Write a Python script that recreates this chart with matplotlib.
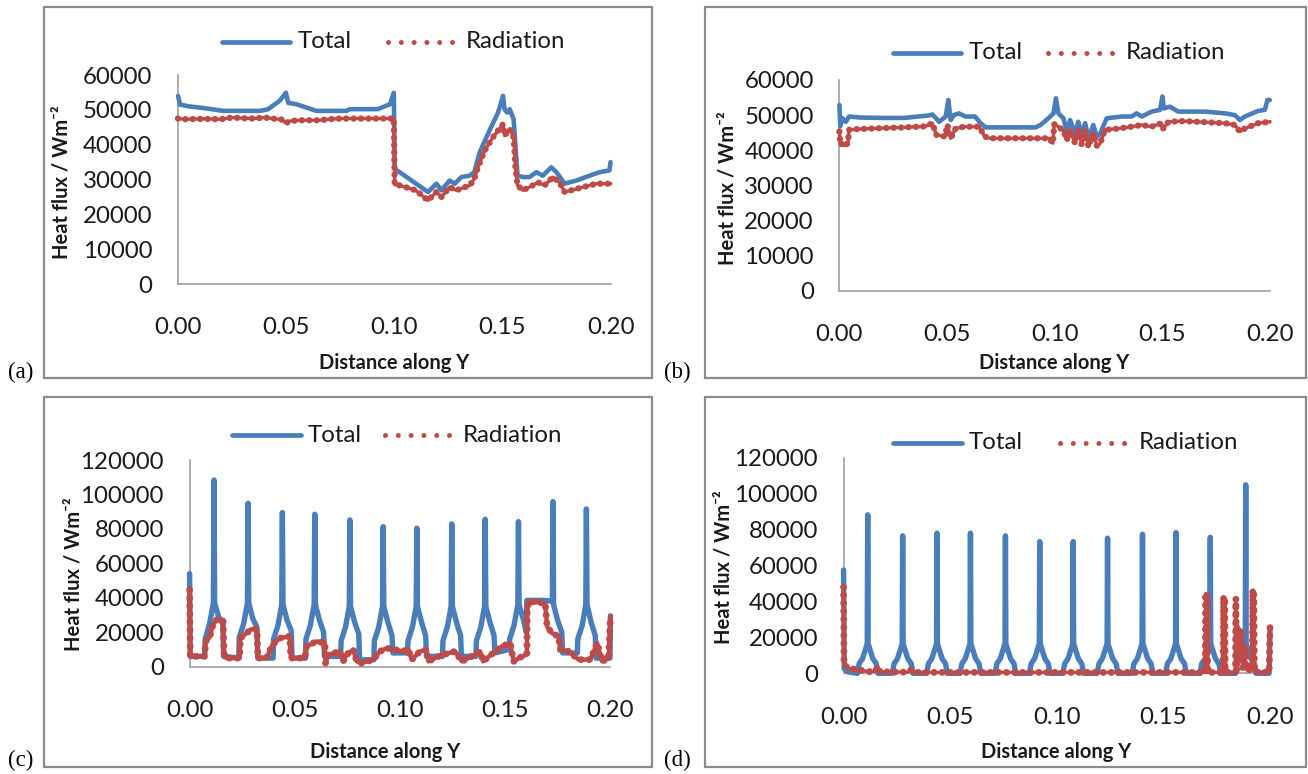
import matplotlib
matplotlib.use('Agg')
import matplotlib.pyplot as plt
from matplotlib.lines import Line2D
from matplotlib.patches import Rectangle
from matplotlib.ticker import FixedLocator, FormatStrFormatter

# ---------------- data ----------------
x_ticks = [0.00, 0.05, 0.10, 0.15, 0.20]
y_ticks_ab = [0, 10000, 20000, 30000, 40000, 50000, 60000]
y_ticks_cd = [0, 20000, 40000, 60000, 80000, 100000, 120000]
series_names = ['Total', 'Radiation']
panel_labels = ['(a)', '(b)', '(c)', '(d)']

# (a)
a_total_x = [0.0, 0.001, 0.005, 0.012, 0.021, 0.038, 0.0417, 0.047, 0.0499, 0.051, 0.0548, 0.064,
             0.078, 0.0794, 0.0924, 0.098, 0.0998, 0.1002, 0.1025, 0.1156, 0.1195, 0.1218, 0.1256,
             0.128, 0.131, 0.1349, 0.137, 0.1395, 0.144, 0.148, 0.1503, 0.151, 0.1522, 0.1534,
             0.1552, 0.157, 0.1595, 0.1626, 0.1657, 0.1687, 0.1726, 0.175, 0.1788, 0.1842, 0.1903,
             0.195, 0.1995, 0.2]
a_total_y = [54000, 51500, 51000, 50500, 49700, 49700, 50200, 52600, 54900, 52000, 51600, 49700,
             49700, 50200, 50200, 51600, 54900, 33000, 32100, 26400, 28800, 26900, 29700,
             28800, 30700, 31100, 32100, 37800, 44000, 49200, 54000, 50200, 49200, 50200,
             47300, 31100, 30700, 30700, 32100, 31100, 33500, 32100, 28800, 29700, 31100,
             32100, 32600, 35000]
a_rad_x = [0.0, 0.003, 0.012, 0.02, 0.025, 0.03, 0.035, 0.04, 0.045, 0.048, 0.0499, 0.052, 0.056,
           0.065, 0.07, 0.075, 0.08, 0.09, 0.0998, 0.1002, 0.1025, 0.11, 0.1156, 0.1195, 0.1218,
           0.1256, 0.1287, 0.1349, 0.137, 0.1387, 0.1418, 0.1456, 0.1503, 0.151, 0.1534, 0.1552,
           0.1557, 0.1561, 0.157, 0.1595, 0.164, 0.1664, 0.1695, 0.1734, 0.1764, 0.1788, 0.1842,
           0.1934, 0.2]
a_rad_y = [47500, 47300, 47400, 47300, 47800, 47600, 47500, 47800, 47400, 47200, 46200, 46800, 47000,
           47000, 47300, 47500, 47500, 47500, 47500, 28500, 28300, 26900, 24000, 26400, 25000,
           27800, 26900, 28300, 30200, 33500, 38300, 42100, 45900, 42600, 44500, 42100,
           37300, 33000, 28300, 26900, 28300, 29200, 28300, 30700, 29200, 26400, 27300,
           28800, 28800]

# (b)
b_total_x = [0.0, 0.0004, 0.0014, 0.003, 0.0045, 0.01, 0.02, 0.03, 0.0416, 0.0432, 0.0463, 0.0494,
             0.0506, 0.0517, 0.0532, 0.0555, 0.0586, 0.063, 0.0656, 0.068, 0.08, 0.0911, 0.0935,
             0.0971, 0.0995, 0.1006, 0.1018, 0.1041, 0.1057, 0.1072, 0.1095, 0.111, 0.1126, 0.1142,
             0.1157, 0.118, 0.1196, 0.121, 0.1242, 0.1312, 0.1358, 0.1381, 0.1405, 0.1451, 0.149,
             0.1501, 0.1508, 0.1536, 0.1574, 0.17, 0.1791, 0.1838, 0.1861, 0.1884, 0.1946, 0.1977,
             0.1989, 0.2]
b_total_y = [52900, 46800, 49100, 48100, 49600, 49300, 49200, 49200, 49900, 50200, 48100, 49600,
             54300, 48600, 50000, 50500, 49600, 49600, 47700, 46500, 46500, 46500, 47200,
             49100, 50500, 54800, 50500, 49100, 45300, 48600, 44800, 48100, 44400, 47700,
             43400, 47200, 43900, 44500, 49100, 49600, 49600, 50500, 49600, 51000, 51500,
             55300, 51900, 52400, 51000, 51000, 50500, 50000, 48600, 49600, 51200, 51500,
             54300, 54300]
b_rad_x = [0.0, 0.0005, 0.0015, 0.0025, 0.004, 0.0045, 0.008, 0.02, 0.03, 0.04, 0.0432, 0.045,
           0.049, 0.0502, 0.0517, 0.054, 0.058, 0.065, 0.0675, 0.07, 0.08, 0.0975, 0.0992, 0.0998,
           0.1018, 0.1041, 0.1057, 0.1072, 0.1095, 0.111, 0.1126, 0.1142, 0.1157, 0.118, 0.1196,
           0.1211, 0.1234, 0.13, 0.1358, 0.1405, 0.145, 0.1497, 0.1505, 0.1529, 0.16, 0.1791,
           0.1838, 0.1861, 0.1884, 0.1946, 0.2]
b_rad_y = [45300, 41500, 42000, 41300, 42000, 45800, 46000, 46300, 46500, 46800, 47700, 44400,
           43900, 47200, 43400, 46200, 46700, 46700, 43900, 43400, 43400, 43400, 42000, 47400,
           46700, 45500, 42900, 45800, 42000, 45800, 41500, 45500, 41000, 44900, 41300,
           41800, 45800, 46200, 46700, 47200, 46700, 47700, 46200, 48100, 48300, 47700,
           47200, 45300, 46200, 47700, 48100]

# (c)
c_total_x = [0.0000, 0.0003, 0.0072,
             0.0074, 0.0095, 0.0113, 0.0116, 0.0119, 0.0138, 0.0158, 0.0162, 0.0234,
             0.0236, 0.0257, 0.0275, 0.0278, 0.0281, 0.0300, 0.0320, 0.0324, 0.0397,
             0.0399, 0.0420, 0.0438, 0.0441, 0.0444, 0.0463, 0.0483, 0.0487, 0.0551,
             0.0553, 0.0574, 0.0592, 0.0595, 0.0598, 0.0617, 0.0637, 0.0641, 0.0718,
             0.0720, 0.0741, 0.0759, 0.0762, 0.0765, 0.0784, 0.0804, 0.0808, 0.0876,
             0.0878, 0.0899, 0.0917, 0.0920, 0.0923, 0.0942, 0.0962, 0.0966, 0.1036,
             0.1038, 0.1059, 0.1077, 0.1080, 0.1083, 0.1102, 0.1122, 0.1126, 0.1202,
             0.1204, 0.1225, 0.1243, 0.1246, 0.1249, 0.1268, 0.1288, 0.1292, 0.1361,
             0.1363, 0.1384, 0.1402, 0.1405, 0.1408, 0.1427, 0.1447, 0.1451, 0.1519,
             0.1521, 0.1542, 0.1560, 0.1563, 0.1566, 0.1585, 0.1600, 0.1603, 0.1683,
             0.1724, 0.1727, 0.1730, 0.1749, 0.1769, 0.1773, 0.1843,
             0.1845, 0.1866, 0.1883, 0.1886, 0.1889, 0.1908, 0.1928, 0.1932, 0.1998,
             0.2000]
c_total_y = [54000, 6000, 6000,
             16000, 25000, 37000, 108400, 37000, 29000, 25000, 6000, 5000,
             17000, 25000, 37000, 94900, 37000, 28000, 23000, 5000, 5000,
             16000, 24000, 36000, 89500, 36000, 27000, 21000, 5000, 5000,
             16000, 24000, 36000, 88500, 36000, 27000, 20000, 6000, 6000,
             15000, 23000, 35000, 85200, 35000, 26000, 19000, 4000, 4000,
             15000, 23000, 35000, 81300, 35000, 26000, 18000, 8000, 8000,
             15000, 23000, 35000, 80400, 35000, 26000, 18000, 6000, 6000,
             15000, 23000, 35000, 82900, 35000, 26000, 18000, 6000, 6000,
             15000, 23000, 35000, 85600, 35000, 26000, 18000, 8000, 10000,
             16000, 24000, 36000, 84200, 36000, 28000, 20000, 38500, 38500,
             38000, 95800, 36000, 27000, 20000, 8000, 8000,
             16000, 24000, 36000, 91600, 36000, 26000, 18000, 5000, 5000,
             29500]
c_rad_x = [0.0, 0.0003, 0.0071, 0.0076, 0.0095, 0.0111, 0.0127, 0.0159, 0.0164, 0.0175, 0.0238,
           0.0241, 0.027, 0.0294, 0.032, 0.0325, 0.0365, 0.0394, 0.0429, 0.0476, 0.0481, 0.0548,
           0.0556, 0.0603, 0.0643, 0.0646, 0.066, 0.0714, 0.073, 0.0746, 0.0778, 0.0794, 0.0817,
           0.0873, 0.0905, 0.0937, 0.0968, 0.0976, 0.1008, 0.104, 0.1056, 0.1095, 0.1127, 0.1135,
           0.1183, 0.123, 0.1262, 0.1294, 0.1341, 0.1381, 0.1395, 0.1452, 0.1484, 0.1524, 0.154,
           0.158, 0.1603, 0.1605, 0.1611, 0.169, 0.1699, 0.1722, 0.1754, 0.1762, 0.1802, 0.1849,
           0.1905, 0.1937, 0.196, 0.1992, 0.2]
c_rad_y = [44600, 6000, 6000, 14700, 17000, 24300, 27200, 27200, 7000, 5000, 5000,
           16600, 19500, 21800, 21800, 5000, 5000, 12800, 16600, 17600, 5000, 5000,
           11800, 14700, 13700, 2100, 7000, 8900, 3100, 7000, 9900, 3100, 2100,
           4100, 8900, 10800, 9900, 9900, 8900, 9900, 4100, 8900, 9900, 3100,
           6000, 7900, 8900, 3100, 6000, 8900, 3100, 8900, 11800, 13700, 3100,
           6000, 7000, 33000, 37900, 36900, 23400, 19500, 17600, 9900, 8900, 4100,
           4100, 13700, 3100, 5000, 29200]

# (d)
d_total_x = [0.0000, 0.0003, 0.0020, 0.0065,
             0.0067, 0.0073, 0.0089, 0.0111, 0.0113, 0.0115, 0.0137, 0.0153, 0.0159, 0.0161,
             0.0229, 0.0231, 0.0237, 0.0253, 0.0275, 0.0277, 0.0279, 0.0301, 0.0317, 0.0323, 0.0325,
             0.0390, 0.0392, 0.0398, 0.0414, 0.0436, 0.0438, 0.0440, 0.0462, 0.0478, 0.0484, 0.0486,
             0.0547, 0.0549, 0.0555, 0.0571, 0.0593, 0.0595, 0.0597, 0.0619, 0.0635, 0.0641, 0.0643,
             0.0711, 0.0713, 0.0719, 0.0735, 0.0757, 0.0759, 0.0761, 0.0783, 0.0799, 0.0805, 0.0807,
             0.0872, 0.0874, 0.0880, 0.0896, 0.0918, 0.0920, 0.0922, 0.0944, 0.0960, 0.0966, 0.0968,
             0.1029, 0.1031, 0.1037, 0.1053, 0.1075, 0.1077, 0.1079, 0.1101, 0.1117, 0.1123, 0.1125,
             0.1190, 0.1192, 0.1198, 0.1214, 0.1236, 0.1238, 0.1240, 0.1262, 0.1278, 0.1284, 0.1286,
             0.1354, 0.1356, 0.1362, 0.1378, 0.1400, 0.1402, 0.1404, 0.1426, 0.1442, 0.1448, 0.1450,
             0.1511, 0.1513, 0.1519, 0.1535, 0.1557, 0.1559, 0.1561, 0.1583, 0.1599, 0.1605, 0.1607,
             0.1672, 0.1674, 0.1680, 0.1696, 0.1718, 0.1720, 0.1722, 0.1744, 0.1760, 0.1766, 0.1768,
             0.1838, 0.1840, 0.1846, 0.1862, 0.1884, 0.1886, 0.1888, 0.1910, 0.1926, 0.1932, 0.1934,
             0.1996, 0.2000]
d_total_y = [57500, 2500, 800, 0,
             1700, 5400, 8200, 16500, 88200, 16500, 8200, 5400, 1700, 0,
             0, 1700, 5400, 8200, 16500, 76500, 16500, 8200, 5400, 1700, 0,
             0, 1700, 5400, 8200, 16500, 78000, 16500, 8200, 5400, 1700, 0,
             0, 1700, 5400, 8200, 16500, 78000, 16500, 8200, 5400, 1700, 0,
             0, 1700, 5400, 8200, 16500, 76500, 16500, 8200, 5400, 1700, 0,
             0, 1700, 5400, 8200, 16500, 73300, 16500, 8200, 5400, 1700, 0,
             0, 1700, 5400, 8200, 16500, 73300, 16500, 8200, 5400, 1700, 0,
             0, 1700, 5400, 8200, 16500, 75200, 16500, 8200, 5400, 1700, 0,
             0, 1700, 5400, 8200, 16500, 77400, 16500, 8200, 5400, 1700, 0,
             0, 1700, 5400, 8200, 16500, 78300, 16500, 8200, 5400, 1700, 0,
             0, 1700, 5400, 8200, 16500, 75700, 16500, 8200, 5400, 1700, 0,
             0, 1700, 5400, 8200, 16500, 104900, 16500, 8200, 5400, 1700, 0,
             0, 25000]
d_rad_x = [0.0000, 0.0002, 0.0020, 0.0034, 0.0078, 0.0120, 0.0150, 0.0160, 0.0170, 0.0300,
           0.0315, 0.0330, 0.1696, 0.1699, 0.1702, 0.1705, 0.1708, 0.1780, 0.1782, 0.1785,
           0.1787, 0.1790, 0.1838, 0.1840, 0.1843, 0.1850, 0.1858, 0.1865, 0.1872, 0.1880,
           0.1890, 0.1917, 0.1919, 0.1922, 0.1924, 0.1927, 0.1950, 0.1996, 0.2000]
d_rad_y = [48000, 4500, 3200, 2600, 1700, 900, 1200, 3800, 900, 600,
           1800, 500, 500, 44500, 500, 43500, 500, 500, 42600, 500,
           42000, 500, 500, 41700, 1500, 26000, 12000, 24000, 3000, 15000,
           2000, 2000, 46300, 3000, 44000, 1000, 600, 600, 25800]

# ---------------- layout / style ----------------
W, H = 1308, 774
BLUE = '#4A7EBB'
RED = '#BE4B48'
FONT = ['Lato', 'DejaVu Sans']
TICK_FS = 17.3
TITLE_FS = 14.5
TEXT_COLOR = '#1a1a1a'

fig = plt.figure(figsize=(W / 100, H / 100), dpi=100)
fig.patch.set_facecolor('white')


def fx(x):
    return x / W


def fy(y):
    return 1 - y / H


panels = [
    dict(data=(a_total_x, a_total_y, a_rad_x, a_rad_y), box=(178, 610.5, 75, 284), yt=y_ticks_ab,
         border=(44, 7, 652, 378), lab=(8, 372), xt_center=(394, 363), yt_center=(62, 182),
         leg=(222, 290, 42, 298, 388, 452, 466), blw=3.3, rlw=4.6, ulw=2.4),
    dict(data=(b_total_x, b_total_y, b_rad_x, b_rad_y), box=(839.4, 1269.8, 80, 290.7), yt=y_ticks_ab,
         border=(705, 7, 1306, 378), lab=(664, 372), xt_center=(1054, 363), yt_center=(727, 188),
         leg=(893, 961, 52.7, 969, 1048, 1114, 1126), blw=3.3, rlw=4.6, ulw=2.4),
    dict(data=(c_total_x, c_total_y, c_rad_x, c_rad_y), box=(189.6, 610.4, 460, 666.7), yt=y_ticks_cd,
         border=(44, 397, 652, 767), lab=(8, 760), xt_center=(385, 752), yt_center=(73, 574),
         leg=(232.5, 301, 435, 308, 385, 450, 462.5), blw=3.9, rlw=5.0, ulw=3.2),
    dict(data=(d_total_x, d_total_y, d_rad_x, d_rad_y), box=(843.6, 1270, 457.7, 673.3), yt=y_ticks_cd,
         border=(705, 397, 1306, 767), lab=(664, 760), xt_center=(1056, 752), yt_center=(723, 567),
         leg=(893, 961.5, 442.7, 969, 1060, 1127, 1139), blw=3.9, rlw=5.0, ulw=2.4),
]

for i, p in enumerate(panels):
    # panel border
    bx0, by0, bx1, by1 = p['border']
    fig.add_artist(Rectangle((fx(bx0), fy(by1)), fx(bx1 - bx0), (by1 - by0) / H,
                             transform=fig.transFigure, fill=False, edgecolor='#8c8c8c', lw=1.6))
    fig.text(fx(p['lab'][0]), fy(p['lab'][1]), panel_labels[i], family=['Liberation Serif', 'DejaVu Serif'],
             fontsize=16.5, va='center', ha='left', color='black')

    l, r, t, b = p['box']
    ax = fig.add_axes([fx(l), fy(b), (r - l) / W, (b - t) / H])
    tx, ty, rx, ry = p['data']
    ax.plot(tx, ty, color=BLUE, lw=p['blw'], solid_joinstyle='round', solid_capstyle='round',
            clip_on=False, zorder=3)
    # radiation: thin core + round dots (Excel "round dot" on dense data)
    ax.plot(rx, ry, color=RED, lw=p['ulw'], solid_joinstyle='round', clip_on=False, zorder=4)
    ax.plot(rx, ry, color=RED, lw=p['rlw'], linestyle=(0, (0.01, 1.15)), dash_capstyle='round',
            clip_on=False, zorder=4)
    ax.set_xlim(0, 0.2)
    ax.set_ylim(0, p['yt'][-1])
    ax.xaxis.set_major_locator(FixedLocator(x_ticks))
    ax.xaxis.set_major_formatter(FormatStrFormatter('%.2f'))
    ax.yaxis.set_major_locator(FixedLocator(p['yt']))
    ax.yaxis.set_major_formatter(FormatStrFormatter('%d'))
    for s in ['top', 'right']:
        ax.spines[s].set_visible(False)
    for s in ['left', 'bottom']:
        ax.spines[s].set_color('#a0a0a0')
        ax.spines[s].set_linewidth(1.2)
    ax.tick_params(axis='both', length=0, colors=TEXT_COLOR, labelsize=TICK_FS)
    ax.tick_params(axis='y', pad=18.5)
    ax.tick_params(axis='x', pad=24)
    for lab in ax.get_xticklabels() + ax.get_yticklabels():
        lab.set_family(FONT)
    ax.patch.set_alpha(0)

    # axis titles
    fig.text(fx(p['xt_center'][0]), fy(p['xt_center'][1]), 'Distance along Y', family=FONT,
             fontweight='bold', fontsize=TITLE_FS, ha='center', va='center', color=TEXT_COLOR)
    fig.text(fx(p['yt_center'][0]), fy(p['yt_center'][1]), 'Heat flux / Wm\u207b\u00b2', family=FONT,
             fontweight='bold', fontsize=TITLE_FS, ha='center', va='center', rotation=90, color=TEXT_COLOR)

    # legend
    lx0, lx1, ly, ttx, dx0, dx1, rtx = p['leg']
    fig.add_artist(Line2D([fx(lx0), fx(lx1)], [fy(ly), fy(ly)], transform=fig.transFigure,
                          color=BLUE, lw=3.4, solid_capstyle='round'))
    fig.add_artist(Line2D([fx(dx0), fx(dx1 + 1)], [fy(ly), fy(ly)], transform=fig.transFigure,
                          color=RED, lw=3.6, linestyle=(0, (0.01, 2.55)), dash_capstyle='round'))
    fig.text(fx(ttx), fy(ly), series_names[0], family=FONT, fontsize=TICK_FS, ha='left',
             va='center', color=TEXT_COLOR)
    fig.text(fx(rtx), fy(ly), series_names[1], family=FONT, fontsize=TICK_FS, ha='left',
             va='center', color=TEXT_COLOR)

fig.savefig('out.png', dpi=100, facecolor='white')
